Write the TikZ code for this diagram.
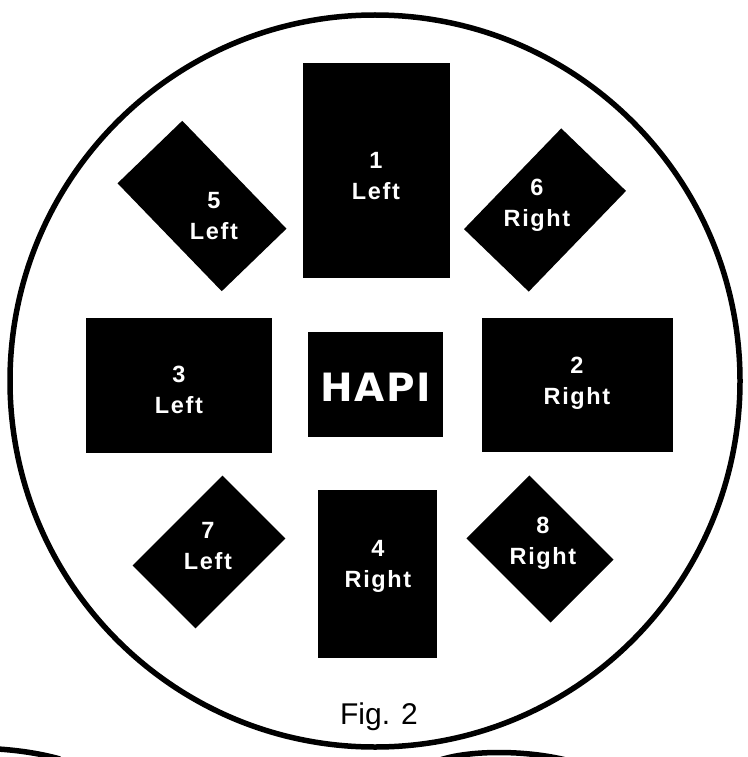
\documentclass[tikz,border=0pt]{standalone}
\usepackage{fontspec}
\newfontfamily\labf[LetterSpace=7]{Liberation Sans}
\newfontfamily\hapif[LetterSpace=4]{DejaVu Sans}
\newfontfamily\figf{Liberation Sans}
\begin{document}
\begin{tikzpicture}[x=1pt,y=-1pt,
  blk/.style={fill=black,draw=none,inner sep=0pt},
  lab/.style={text=white,align=center,font=\labf\bfseries\fontsize{23.5}{31}\selectfont,inner sep=0pt},
  ring/.style={line width=5.5pt}]
\useasboundingbox (0,0) rectangle (747,757);
\clip (0,0) rectangle (747,757);
% outer circle
\draw[ring] (375,381) ellipse [x radius=365pt, y radius=366pt];
% bottom fragments of the next figure
\draw[ring] (-2,749) .. controls (20,750.5) and (40,753.5) .. (60,759);
\draw[ring] (440,760) .. controls (470,750) and (525,750) .. (566,760);
% rectangles
\node[blk,minimum width=147pt,minimum height=215pt] (r1) at (376.5,170.5) {};
\node[lab] (t1) at (376,176) {1\\Left};
\node[blk,minimum width=186pt,minimum height=135pt] (r3) at (179,385.5) {};
\node[lab] (t3) at (179,390) {3\\Left};
\node[blk,minimum width=191pt,minimum height=134pt] (r2) at (577.5,385) {};
\node[lab] (t2) at (577,383) {2\\Right};
\node[blk,minimum width=135pt,minimum height=105pt] (hapi) at (375.5,384.5) {};
\node[text=white,inner sep=0pt,font=\hapif\bfseries\fontsize{39}{39}\selectfont] (th) at (376,387) {HAPI};
\node[blk,minimum width=119pt,minimum height=168pt] (r4) at (377.5,574) {};
\node[lab] (t4) at (378,566) {4\\Right};
% tilted boxes
\node[blk,minimum width=150pt,minimum height=90pt,rotate=-46] (d5) at (202,206) {};
\node[lab] (t5) at (214,216) {5\\Left};
\node[blk,minimum width=140pt,minimum height=90pt,rotate=46] (d6) at (545,210) {};
\node[lab] (t6) at (537,205) {6\\Right};
\node[blk,minimum width=127pt,minimum height=89pt,rotate=45] (d7) at (209,552) {};
\node[lab] (t7) at (208,546) {7\\Left};
\node[blk,minimum width=119pt,minimum height=89pt,rotate=-45] (d8) at (540,549) {};
\node[lab] (t8) at (543,543) {8\\Right};
% caption
\node[inner sep=0pt,font=\figf\fontsize{30}{30}\selectfont] (cap) at (379,717) {Fig. 2};
\end{tikzpicture}
\end{document}
